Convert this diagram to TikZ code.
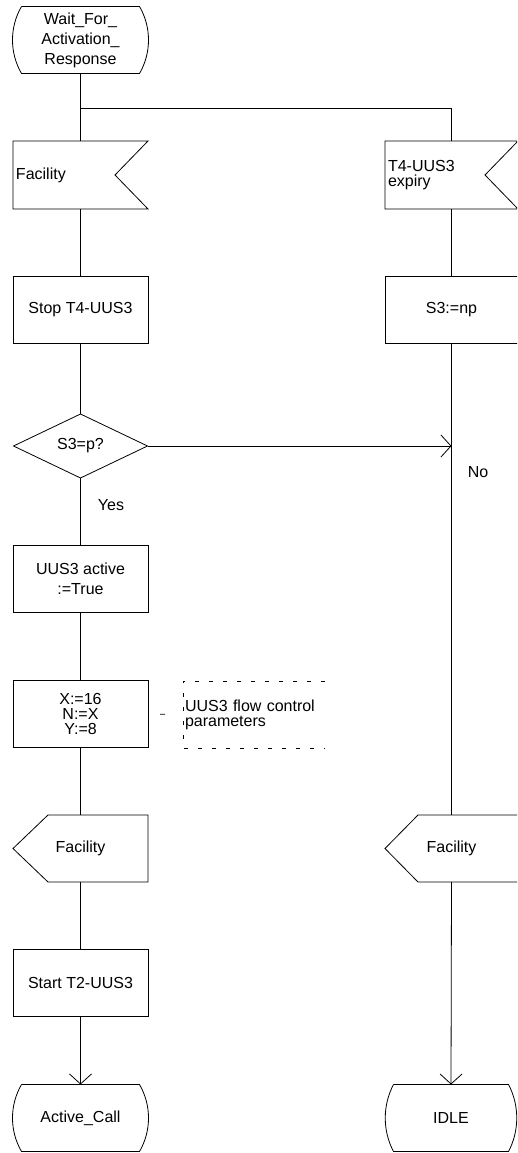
\documentclass[tikz,border=0pt]{standalone}
\usepackage{fontspec}
\setmainfont{Liberation Sans}
\usetikzlibrary{arrows.meta,calc}
\begin{document}
\begin{tikzpicture}[x=1pt,y=-1pt,line width=0.8pt,
  font=\fontsize{16}{18}\selectfont,
  every node/.style={inner sep=0pt, outer sep=0pt},
  taskbox/.style={draw, minimum width=135pt, minimum height=67pt, align=center},
  rtaskbox/.style={draw, minimum width=133pt, minimum height=67pt, align=center},
  statebox/.style={minimum width=118pt, minimum height=67pt, align=center},
  sigin/.style={minimum height=68pt, inner xsep=3pt, text width=129pt, align=left},
  sigout/.style={minimum width=135pt, minimum height=67pt, align=center},
  arr/.style={-{Straight Barb[length=10pt,width=22pt,line width=0.8pt]}},
  cmtline/.style={dash pattern=on 4pt off 10pt},
]
\useasboundingbox (0,0) rectangle (517,1153);
\clip (0,0) rectangle (517,1153);

\newcommand\stateoutline[2]{%
  \draw (#1.north west) -- (#1.north east)
    .. controls ($(#1.north east)+(#2,20.7)$) and ($(#1.south east)+(#2,-20.7)$) .. (#1.south east)
    -- (#1.south west)
    .. controls ($(#1.south west)+(-#2,-20.7)$) and ($(#1.north west)+(-#2,20.7)$) .. (#1.north west);}

% ---- left column ----
\node[statebox, font=\fontsize{16}{20}\selectfont] (wait) at (80.5,40) {Wait\_For\_\\Activation\_\\Response};
\stateoutline{wait}{12}

\node[sigin] (fac1) at (80.5,175) {Facility};
\draw (fac1.north west) -- (fac1.north east) -- ($(fac1.east)+(-33,0)$)
  -- (fac1.south east) -- (fac1.south west) -- cycle;

\node[taskbox] (stop) at (80.5,309.5) {Stop T4-UUS3};

\node[minimum width=134pt, minimum height=64pt] (dec) at (80.5,446) {S3=p?};
\draw (dec.west) -- (dec.north) -- (dec.east) -- (dec.south) -- cycle;

\node (yes) at (111,505) {Yes};

\node[taskbox, font=\fontsize{16}{20}\selectfont] (act) at (80.5,579) {UUS3 active\\:=True};

\node[taskbox, font=\fontsize{16}{15}\selectfont] (xn) at (80.5,714) {X:=16\\N:=X\\Y:=8};

\node[minimum height=67pt, inner xsep=2pt, text width=138pt, align=left,
  font=\fontsize{16}{15}\selectfont] (cmt) at (254,714.5) {UUS3 flow control\\parameters};
\draw[cmtline] (cmt.north east) -- (cmt.north west) -- (cmt.south west) -- (cmt.south east);
\draw[dash pattern=on 5pt off 40pt, dash phase=33pt] (xn.east) -- (cmt.west);

\node[sigout] (out1) at (80.5,848.5) {Facility};
\draw (out1.west) -- ($(out1.north west)+(35,0)$) -- (out1.north east)
  -- (out1.south east) -- ($(out1.south west)+(35,0)$) -- cycle;

\node[taskbox] (t2) at (80.5,983) {Start T2-UUS3};

\node[statebox] (ac) at (80.5,1118) {Active\_Call};
\stateoutline{ac}{12}

% ---- right column ----
\node[sigin, text width=127pt, font=\fontsize{16}{15}\selectfont] (exp) at (451.5,175) {T4-UUS3\\expiry};
\draw (exp.north west) -- (exp.north east) -- ($(exp.east)+(-33,0)$)
  -- (exp.south east) -- (exp.south west) -- cycle;

\node[rtaskbox] (np) at (451.5,309.5) {S3:=np};

\node (no) at (478,472) {No};

\node[minimum width=133pt, minimum height=67pt, align=center] (fac2) at (451.5,848.5) {Facility};
\draw (fac2.west) -- ($(fac2.north west)+(33,0)$) -- (fac2.north east)
  -- (fac2.south east) -- ($(fac2.south west)+(33,0)$) -- cycle;

\node[minimum width=115pt, minimum height=67pt, align=center] (idle) at (451,1118) {IDLE};
\stateoutline{idle}{11}

% ---- connectors ----
\coordinate (br) at (80.5,108);
\draw (wait.south) -- (fac1.north);
\draw (br) -| (exp.north);
\draw (fac1.south) -- (stop.north);
\draw (stop.south) -- (dec.north);
\draw (dec.south) -- (act.north);
\draw (act.south) -- (xn.north);
\draw (xn.south) -- (out1.north);
\draw (out1.south) -- (t2.north);
\draw[arr] (t2.south) -- (ac.north);

\draw (exp.south) -- (np.north);
\draw (np.south) -- (fac2.north);
\draw[arr] (dec.east) -- (np.south |- dec.east);
\draw[arr] (fac2.south) -- (idle.north);
\end{tikzpicture}
\end{document}
